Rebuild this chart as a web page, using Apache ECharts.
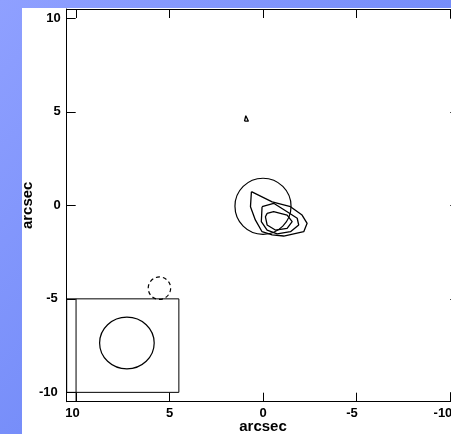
<!DOCTYPE html>
<html>
<head>
<meta charset="utf-8">
<script src="https://cdn.jsdelivr.net/npm/echarts@6/dist/echarts.min.js"></script>
<style>
  html, body { margin: 0; padding: 0; }
  #chart { width: 451px; height: 434px; }
</style>
</head>
<body>
<div id="chart"></div>
<script>
// Axis ticks (arcsec offsets)
const xTicks = [10, 5, 0, -5, -10];
const yTicks = [10, 5, 0, -5, -10];

// Emission contours (arcsec), each a closed outline
const contourOuter = [[0.62, 0.73], [-0.49, 0.19], [-1.47, -0.07], [-2.09, -0.52], [-2.36, -0.96], [-2.18, -1.41], [-1.11, -1.64], [-0.49, -1.58], [0.05, -1.41], [0.41, -0.78], [0.67, -0.07], [0.62, 0.73]];
const contourMiddle = [[0.05, -0.07], [-0.57, 0.11], [-1.29, -0.34], [-1.83, -0.69], [-1.91, -1.05], [-1.47, -1.41], [-0.76, -1.53], [-0.22, -1.32], [0.09, -0.87], [0.05, -0.07]];
const contourInner = [[-0.22, -0.43], [-0.57, -0.34], [-1.29, -0.52], [-1.56, -0.87], [-1.29, -1.23], [-0.66, -1.32], [-0.22, -1.05], [-0.13, -0.61], [-0.22, -0.43]];
const contourSmall = [[0.99, 4.5], [0.78, 4.5], [0.92, 4.79], [0.99, 4.5]];

// Ellipses: [centre x, centre y, radius x, radius y, dashed]
const ellipses = [
  [0, -0.05, 1.5, 1.5, 0],      // source aperture
  [5.54, -4.43, 0.6, 0.6, 1],   // dashed marker
  [7.28, -7.36, 1.46, 1.38, 0]  // beam
];

// Beam box [x1, y1, x2, y2] and its inner edge line
const beamBox = [10.5, -5, 4.5, -10];
const beamEdge = [[10, -5], [10, -10.5]];

const chart = echarts.init(document.getElementById('chart'));
const fontFamily = 'Liberation Sans, Arial, sans-serif';
const labelFont = { fontFamily: fontFamily, fontWeight: 'bold', fontSize: 13, color: '#000' };
const nameFont = { fontFamily: fontFamily, fontWeight: 'bold', fontSize: 15, color: '#000' };
const lineStyle = { color: '#000', width: 1 };

// Label styles that nudge wider labels a little to the left
function richStyles(pads) {
  const rich = {};
  pads.forEach(function (p, i) {
    rich['p' + i] = Object.assign({ padding: [0, p, 0, 0] }, labelFont);
  });
  return rich;
}
const xPads = [0, 7, 9, 14];
const xPadFor = { '10': 1, '5': 0, '0': 0, '-5': 2, '-10': 3 };
const yPads = [0, 3];
const yPadFor = { '10': 0, '5': 0, '0': 0, '-5': 1, '-10': 1 };

function frameAxis(extra) {
  return Object.assign({
    type: 'value',
    min: -10.5,
    max: 10.5,
    nameMoveOverlap: false,
    axisLine: { show: true, onZero: false, lineStyle: lineStyle },
    splitLine: { show: false }
  }, extra);
}

function contourSeries(data) {
  return {
    type: 'line',
    data: data,
    symbol: 'none',
    animation: false,
    lineStyle: { color: '#000', width: 1.3 },
    z: 5
  };
}

chart.setOption({
  animation: false,
  backgroundColor: new echarts.graphic.LinearGradient(0, 0, 1, 1, [
    { offset: 0, color: '#8fa0ff' },
    { offset: 1, color: '#5f7cf4' }
  ]),
  graphic: [{
    type: 'rect',
    z: -10,
    shape: { x: 22, y: 8, width: 429, height: 426 },
    style: { fill: '#fff' }
  }],
  grid: { left: 66.7, top: 9, width: 392.6, height: 392.7, containLabel: false, outerBoundsMode: 'none' },
  xAxis: [
    frameAxis({
      position: 'bottom', inverse: true,
      name: 'arcsec', nameLocation: 'middle', nameGap: 18, nameTextStyle: nameFont,
      axisTick: { show: true, inside: true, length: 9, lineStyle: lineStyle, customValues: xTicks },
      axisLabel: Object.assign({
        margin: 5, customValues: xTicks,
        formatter: function (v) { const k = String(v); return '{p' + (xPadFor[k] || 0) + '|' + k + '}'; },
        rich: richStyles(xPads)
      }, labelFont)
    }),
    frameAxis({
      position: 'top', inverse: true,
      axisTick: { show: true, inside: true, length: 9, lineStyle: lineStyle, customValues: xTicks },
      axisLabel: { show: false }
    })
  ],
  yAxis: [
    frameAxis({
      position: 'left',
      name: 'arcsec', nameLocation: 'middle', nameGap: 31, nameTextStyle: nameFont,
      axisTick: { show: true, inside: true, length: 9, lineStyle: lineStyle, customValues: yTicks },
      axisLabel: Object.assign({
        margin: 6, customValues: yTicks,
        formatter: function (v) { const k = String(v); return '{p' + (yPadFor[k] || 0) + '|' + k + '}'; },
        rich: richStyles(yPads)
      }, labelFont)
    }),
    frameAxis({
      position: 'right',
      axisTick: { show: true, inside: true, length: 9, lineStyle: lineStyle, customValues: yTicks },
      axisLabel: { show: false }
    })
  ],
  series: [
    contourSeries(contourOuter),
    contourSeries(contourMiddle),
    contourSeries(contourInner),
    contourSeries(contourSmall),
    {
      type: 'line',
      data: beamEdge,
      symbol: 'none',
      lineStyle: { color: '#000', width: 1 },
      z: 5
    },
    {
      type: 'custom',
      data: ellipses,
      z: 5,
      renderItem: function (params, api) {
        const c = api.coord([api.value(0), api.value(1)]);
        const s = api.size([api.value(2), api.value(3)]);
        const dashed = api.value(4) === 1;
        return {
          type: 'ellipse',
          shape: { cx: c[0], cy: c[1], rx: s[0], ry: s[1] },
          style: { fill: 'none', stroke: '#000', lineWidth: 1.2, lineDash: dashed ? [4, 3] : null }
        };
      }
    },
    {
      type: 'custom',
      data: [beamBox],
      z: 5,
      renderItem: function (params, api) {
        const p1 = api.coord([api.value(0), api.value(1)]);
        const p2 = api.coord([api.value(2), api.value(3)]);
        return {
          type: 'rect',
          shape: { x: Math.min(p1[0], p2[0]), y: Math.min(p1[1], p2[1]), width: Math.abs(p2[0] - p1[0]), height: Math.abs(p2[1] - p1[1]) },
          style: { fill: 'none', stroke: '#000', lineWidth: 1 }
        };
      }
    }
  ]
});
</script>
</body>
</html>
